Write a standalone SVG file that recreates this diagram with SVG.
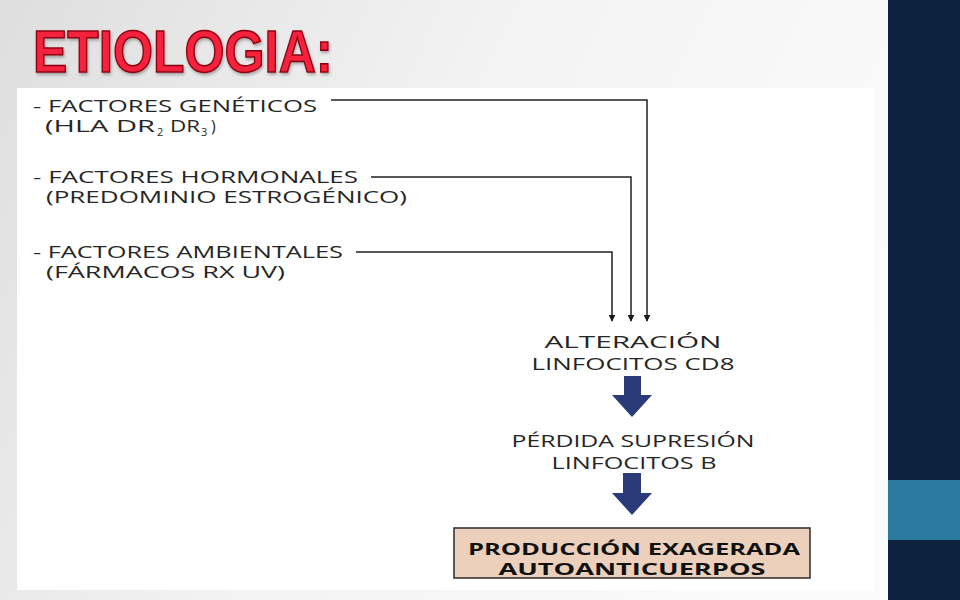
<svg xmlns="http://www.w3.org/2000/svg" width="960" height="600" viewBox="0 0 960 600">
<defs>
<linearGradient id="bg" x1="0" y1="0" x2="1" y2="0.3">
<stop offset="0" stop-color="#dedede"/>
<stop offset="0.5" stop-color="#f3f3f3"/>
<stop offset="1" stop-color="#fbfbfb"/>
</linearGradient>
<marker id="ah" viewBox="0 0 10 10" refX="9" refY="5" markerWidth="7" markerHeight="7" markerUnits="userSpaceOnUse" orient="auto">
<path d="M0,0 L10,5 L0,10 z" fill="#1a1a1a"/>
</marker>
<filter id="glow" x="-10%" y="-20%" width="120%" height="140%">
<feGaussianBlur in="SourceAlpha" stdDeviation="1.5"/>
<feOffset dx="1" dy="2" result="b"/>
<feFlood flood-color="#000" flood-opacity="0.3"/>
<feComposite in2="b" operator="in"/>
<feMerge><feMergeNode/><feMergeNode in="SourceGraphic"/></feMerge>
</filter>
</defs>
<style>
.t{font-family:"Open Sans","Liberation Sans",sans-serif;font-size:16px;fill:#262626;}
.s{font-size:11px;}
.c{text-anchor:middle;}
.b{font-weight:bold;fill:#111;font-size:16px;}
.ln{fill:none;stroke:#222;stroke-width:1.5;}
.blk{fill:#2b3a78;}
</style>
<rect x="0" y="0" width="960" height="600" fill="url(#bg)"/>
<rect x="888" y="0" width="72" height="600" fill="#0c223f"/>
<rect x="888" y="480" width="72" height="60" fill="#2b7ba0"/>
<rect x="17" y="88" width="857" height="502" fill="#ffffff"/>
<g id="title" filter="url(#glow)">
<text x="33" y="72" font-family="Liberation Sans, Arial, sans-serif" font-weight="bold" font-size="60" textLength="300" lengthAdjust="spacingAndGlyphs" fill="#f5203c" stroke="#8a0010" stroke-width="1.5">ETIOLOGIA:</text>
</g>
<g id="genetic">
<text class="t" x="33" y="112" textLength="284" lengthAdjust="spacingAndGlyphs">- FACTORES GENÉTICOS</text>
<text class="t" x="45" y="132" textLength="110" lengthAdjust="spacingAndGlyphs">(HLA DR</text>
<text class="t s" x="157" y="136">2</text>
<text class="t" x="170" y="132" textLength="30" lengthAdjust="spacingAndGlyphs">DR</text>
<text class="t s" x="201" y="136">3</text>
<text class="t" x="211" y="132">)</text>
</g>
<g id="hormonal">
<text class="t" x="33" y="183" textLength="325" lengthAdjust="spacingAndGlyphs">- FACTORES HORMONALES</text>
<text class="t" x="46" y="203" textLength="361" lengthAdjust="spacingAndGlyphs">(PREDOMINIO ESTROGÉNICO)</text>
</g>
<g id="ambiental">
<text class="t" x="33" y="258" textLength="310" lengthAdjust="spacingAndGlyphs">- FACTORES AMBIENTALES</text>
<text class="t" x="46" y="278" textLength="239" lengthAdjust="spacingAndGlyphs">(FÁRMACOS RX UV)</text>
</g>
<g id="alteracion">
<text class="t c" x="633" y="348" textLength="177" lengthAdjust="spacingAndGlyphs">ALTERACIÓN</text>
<text class="t c" x="633" y="370" textLength="203" lengthAdjust="spacingAndGlyphs">LINFOCITOS CD8</text>
</g>
<g id="perdida">
<text class="t c" x="633" y="447" textLength="243" lengthAdjust="spacingAndGlyphs">PÉRDIDA SUPRESIÓN</text>
<text class="t c" x="634" y="469" textLength="165" lengthAdjust="spacingAndGlyphs">LINFOCITOS B</text>
</g>
<g id="produccion">
<rect x="454" y="528" width="356" height="50" fill="#ecd0bb" stroke="#2a2a2a" stroke-width="1.5"/>
<text class="t c b" x="634" y="555" textLength="332" lengthAdjust="spacingAndGlyphs">PRODUCCIÓN EXAGERADA</text>
<text class="t c b" x="632" y="575" textLength="267" lengthAdjust="spacingAndGlyphs">AUTOANTICUERPOS</text>
</g>
<g id="connectors">
<path class="ln" d="M331,100 H647 V321" marker-end="url(#ah)"/>
<path class="ln" d="M371,177 H631 V321" marker-end="url(#ah)"/>
<path class="ln" d="M356,252 H612 V321" marker-end="url(#ah)"/>
<path class="blk" d="M624,376 H641 V395 H652 L632,417 L612,395 H624 Z"/>
<path class="blk" d="M623,473 H641 V493 H652 L632,515 L612,493 H623 Z"/>
</g>
</svg>
